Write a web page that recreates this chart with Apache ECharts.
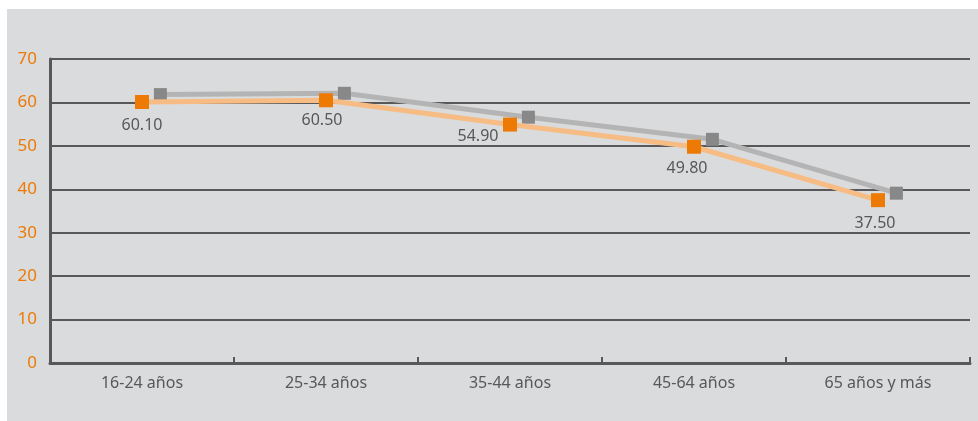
<!DOCTYPE html>
<html>
<head>
<meta charset="utf-8">
<script src="https://cdn.jsdelivr.net/npm/echarts@6/dist/echarts.min.js"></script>
<style>
  html, body { margin: 0; padding: 0; background: #ffffff; }
  #chart { width: 978px; height: 421px; }
</style>
</head>
<body>
<div id="chart"></div>
<script>
// Age groups on the horizontal axis
var categories = ['16-24 años', '25-34 años', '35-44 años', '45-64 años', '65 años y más'];
// Highlighted (orange) series, labelled with its values
var seriesOrange = [60.10, 60.50, 54.90, 49.80, 37.50];
// Reference (grey) series
var seriesGrey = [61.8, 62.1, 56.6, 51.5, 39.1];
// Vertical axis
var yMin = 0, yMax = 70, yStep = 10;

// Styling ---------------------------------------------------------------
var AXIS_COLOR = '#58585a';
var TEXT_COLOR = '#58585a';
var ORANGE = '#ed7a05';
var ORANGE_LINE = '#f7bc84';
var GREY_MARK = '#888889';
var GREY_LINE = '#b4b4b5';
var FONT = 'Noto Sans';
// grey series sits slightly to the right of each category centre
var GREY_SHIFT = 0.1;
// nudges for individual value labels (x, y in px)
var labelNudge = [[0, 0], [-4, -3], [-32, -11], [-7, -1], [-3, 0]];

var orangeData = seriesOrange.map(function (v, i) {
  return {
    value: [i, v],
    label: { offset: labelNudge[i] }
  };
});
var greyData = seriesGrey.map(function (v, i) { return [i + GREY_SHIFT, v]; });

var chart = echarts.init(document.getElementById('chart'), null, { renderer: 'canvas' });
chart.setOption({
  backgroundColor: '#ffffff',
  animation: false,
  graphic: [{
    type: 'rect',
    z: -10,
    shape: { x: 7, y: 9, width: 971, height: 412 },
    style: { fill: '#dadbdc' },
    silent: true
  }],
  grid: { left: 50, right: 8, top: 59, bottom: 58 },
  xAxis: [{
    type: 'category',
    data: categories,
    boundaryGap: true,
    axisLine: { show: true, lineStyle: { color: AXIS_COLOR, width: 3 } },
    axisTick: { show: true, inside: true, length: 6, interval: 0, lineStyle: { color: AXIS_COLOR, width: 2 } },
    axisLabel: { color: TEXT_COLOR, fontSize: 16, fontFamily: FONT, margin: 12 },
    splitLine: { show: false }
  }, {
    type: 'value',
    min: -0.5,
    max: categories.length - 0.5,
    show: false
  }],
  yAxis: {
    type: 'value',
    min: yMin,
    max: yMax,
    interval: yStep,
    axisLine: { show: true, onZero: false, lineStyle: { color: AXIS_COLOR, width: 3 } },
    axisTick: { show: false },
    axisLabel: { color: ORANGE, fontSize: 17, fontFamily: FONT, margin: 13 },
    splitLine: { show: true, lineStyle: { color: AXIS_COLOR, width: 2 } }
  },
  series: [{
    name: 'grey',
    type: 'line',
    xAxisIndex: 1,
    data: greyData,
    symbol: 'rect',
    symbolSize: 13,
    lineStyle: { color: GREY_LINE, width: 5 },
    itemStyle: { color: GREY_MARK },
    z: 3
  }, {
    name: 'orange',
    type: 'line',
    xAxisIndex: 1,
    data: orangeData,
    symbol: 'rect',
    symbolSize: 14,
    lineStyle: { color: ORANGE_LINE, width: 5 },
    itemStyle: { color: ORANGE },
    label: {
      show: true,
      position: 'bottom',
      distance: 8,
      color: TEXT_COLOR,
      fontSize: 16,
      fontFamily: FONT,
      formatter: function (p) { return p.value[1].toFixed(2); }
    },
    z: 4
  }]
});
</script>
</body>
</html>
